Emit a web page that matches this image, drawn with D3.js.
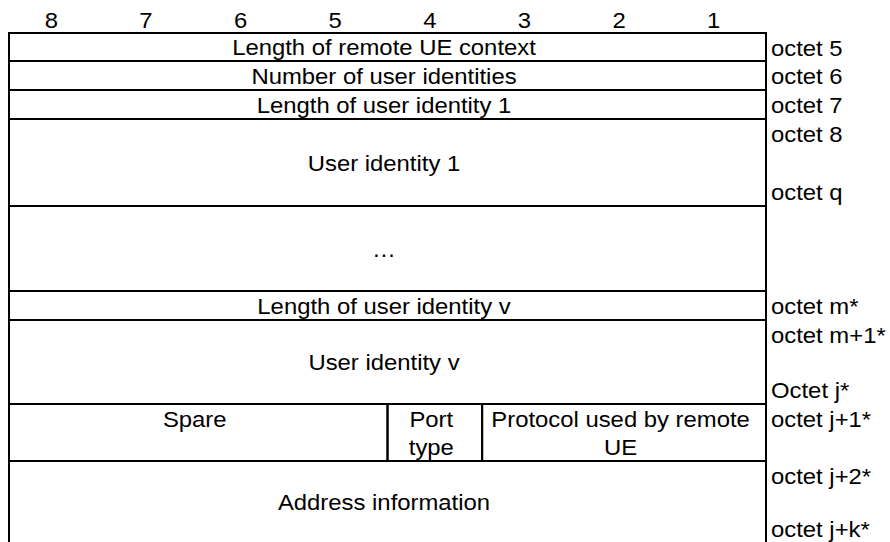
<!DOCTYPE html>
<html>
<head>
<meta charset="utf-8">
<script src="https://cdn.jsdelivr.net/npm/d3@7"></script>
<style>
  html, body { margin: 0; padding: 0; background: #fff; }
  svg { display: block; }
  text { font-family: "Liberation Sans", Arial, sans-serif; fill: #000; }
</style>
</head>
<body>
<svg id="chart" width="890" height="542"></svg>
<script>
// ---- data ----
const bitLabels = ["8", "7", "6", "5", "4", "3", "2", "1"];

const rowFields = [
  [{ label: ["Length of remote UE context"], span: 8 }],
  [{ label: ["Number of user identities"], span: 8 }],
  [{ label: ["Length of user identity 1"], span: 8 }],
  [{ label: ["User identity 1"], span: 8 }],
  [{ label: ["\u2026"], span: 8 }],
  [{ label: ["Length of user identity v"], span: 8 }],
  [{ label: ["User identity v"], span: 8 }],
  [{ label: ["Spare"], span: 4, top: true }, { label: ["Port", "type"], span: 1 }, { label: ["Protocol used by remote", "UE"], span: 3 }],
  [{ label: ["Address information"], span: 8 }]
];

const octetLabels = [
  ["octet 5"],
  ["octet 6"],
  ["octet 7"],
  ["octet 8", "octet q"],
  [],
  ["octet m*"],
  ["octet m+1*", "Octet j*"],
  ["octet j+1*"],
  ["octet j+2*", "octet j+k*"]
];

// ---- layout ----
const rowHeights = [28, 29, 29, 87, 85, 29, 84, 57, 82];
const tableTop = 33;
const fontSize = 21.5;
const stretch = 1.11;
const textShift = -3.5;

const svg = d3.select("#chart");
const x = d3.scaleLinear().domain([0, 8]).range([9, 766]);
const hx = d3.scaleBand().domain(bitLabels).range([4, 761]);

const yEdges = [tableTop];
rowHeights.forEach(h => yEdges.push(yEdges[yEdges.length - 1] + h));
const y = d3.scaleLinear().domain(d3.range(yEdges.length)).range(yEdges);

function stretchedText(sel, tx, ty, anchor) {
  return sel.append("text")
    .attr("transform", `translate(${tx},${ty}) scale(${stretch},1)`)
    .attr("text-anchor", anchor)
    .attr("font-size", fontSize);
}

// header bit labels
bitLabels.forEach(b => {
  stretchedText(svg, hx(b) + hx.bandwidth() / 2, 28, "middle").text(b);
});

// cells
const cellG = svg.append("g");
rowFields.forEach((fields, r) => {
  let start = 0;
  const y0 = y(r), y1 = y(r + 1);
  fields.forEach(f => {
    const x0 = x(start), x1 = x(start + f.span);
    cellG.append("rect")
      .attr("x", x0).attr("y", y0)
      .attr("width", x1 - x0).attr("height", y1 - y0)
      .attr("fill", "none").attr("stroke", "#000").attr("stroke-width", 2);
    const cx = (x0 + x1) / 2 + textShift;
    if (f.label.length === 1 && !f.top) {
      stretchedText(cellG, cx, (y0 + y1) / 2 + 8, "middle").text(f.label[0]);
    } else {
      f.label.forEach((t, i) => {
        stretchedText(cellG, cx, y0 + 23 + i * 28, "middle").text(t);
      });
    }
    start += f.span;
  });
});

// right border continuing full height
svg.append("line")
  .attr("x1", x(8)).attr("x2", x(8))
  .attr("y1", y(0)).attr("y2", y(rowHeights.length))
  .attr("stroke", "#000").attr("stroke-width", 2);

// octet labels
octetLabels.forEach((labs, r) => {
  const y0 = y(r), y1 = y(r + 1);
  if (labs.length >= 1) {
    stretchedText(svg, x(8) + 5, y0 + 22.5, "start").text(labs[0]);
  }
  if (labs.length === 2) {
    stretchedText(svg, x(8) + 5, y1 - 6, "start").text(labs[1]);
  }
});
</script>
</body>
</html>
